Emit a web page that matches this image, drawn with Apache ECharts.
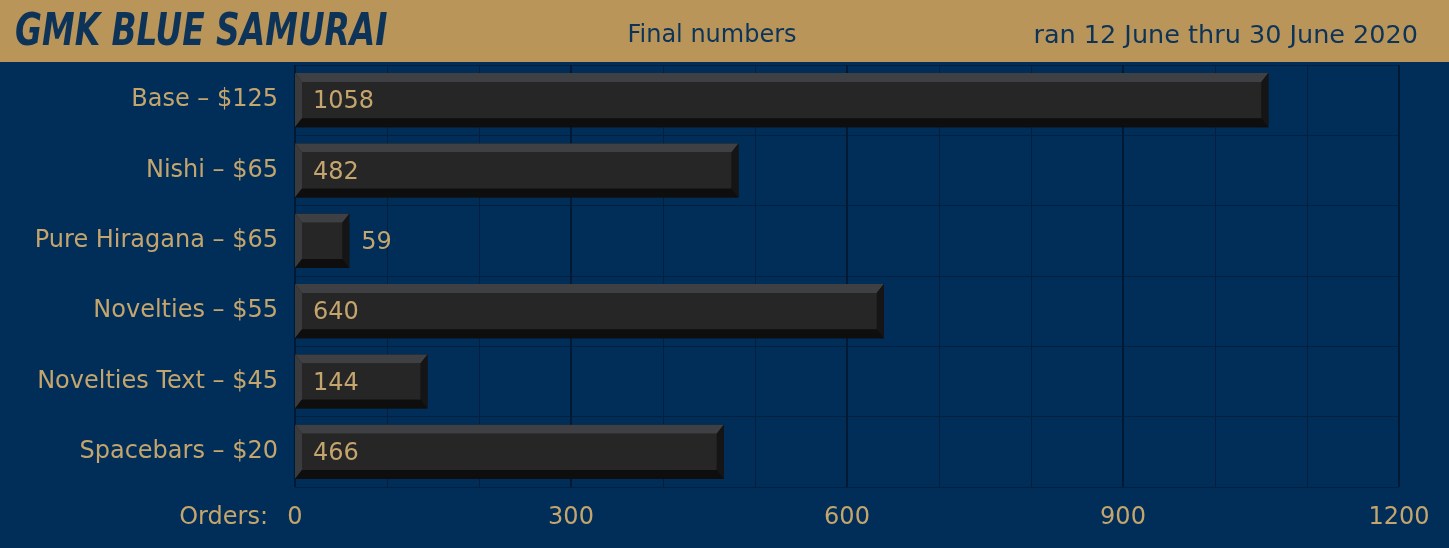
<!DOCTYPE html>
<html>
<head>
<meta charset="utf-8">
<script src="https://cdn.jsdelivr.net/npm/echarts@6/dist/echarts.min.js"></script>
<style>
html,body{margin:0;padding:0;background:#002e58;}
#chart{width:1449px;height:548px;}
</style>
</head>
<body>
<div id="chart"></div>
<script>
const categories = ['Base – $125', 'Nishi – $65', 'Pure Hiragana – $65', 'Novelties – $55', 'Novelties Text – $45', 'Spacebars – $20'];
const orders = [1058, 482, 59, 640, 144, 466];
const xTicks = [0, 300, 600, 900, 1200];
const titleText = 'GMK BLUE SAMURAI';
const subtitleText = 'Final numbers';
const dateText = 'ran 12 June thru 30 June 2020';
const axisNameText = 'Orders:';

const GOLD = '#c4a56d';
const FONT = '"DejaVu Sans", "Noto Sans", sans-serif';

const chart = echarts.init(document.getElementById('chart'), null, {renderer: 'canvas'});

function renderItem(params, api) {
  const v = api.value(0);
  const c = api.value(1);
  const s = api.coord([0, c]);
  const e = api.coord([v, c]);
  const h = api.size([0, 1])[1] * 0.77;
  const x0 = s[0], x1 = e[0];
  const y0 = s[1] - h / 2, y1 = s[1] + h / 2;
  const bl = 7, bt = 9, br = 7, bb = 9;
  const inside = v >= 100;
  return {
    type: 'group',
    children: [
      {type: 'rect', shape: {x: x0, y: y0, width: x1 - x0, height: y1 - y0}, style: {fill: '#121212'}},
      {type: 'polygon', shape: {points: [[x0, y0], [x1, y0], [x1 - br, y0 + bt], [x0 + bl, y0 + bt]]}, style: {fill: '#3f4043'}},
      {type: 'polygon', shape: {points: [[x0, y0], [x0 + bl, y0 + bt], [x0 + bl, y1 - bb], [x0, y1]]}, style: {fill: '#3a3b3d'}},
      {type: 'polygon', shape: {points: [[x0, y1], [x0 + bl, y1 - bb], [x1 - br, y1 - bb], [x1, y1]]}, style: {fill: '#0e0e0e'}},
      {type: 'polygon', shape: {points: [[x1, y0], [x1 - br, y0 + bt], [x1 - br, y1 - bb], [x1, y1]]}, style: {fill: '#151515'}},
      {type: 'rect', shape: {x: x0 + bl, y: y0 + bt, width: Math.max(0, x1 - x0 - bl - br), height: y1 - y0 - bt - bb}, style: {fill: '#262627'}},
      {type: 'text', style: {
        text: String(v),
        x: inside ? x0 + 18 : x1 + 12,
        y: s[1] + 2,
        fill: GOLD,
        font: '24px ' + FONT,
        textAlign: 'left',
        textVerticalAlign: 'middle',
        verticalAlign: 'middle'
      }}
    ]
  };
}

const option = {
  backgroundColor: '#002e58',
  animation: false,
  grid: {left: 295, right: 50, top: 65, bottom: 61, containLabel: false},
  xAxis: {
    type: 'value',
    min: 0,
    max: 1200,
    interval: 300,
    axisLine: {show: false},
    axisTick: {show: false},
    axisLabel: {
      color: GOLD, fontSize: 24, fontFamily: FONT, margin: 19,
      formatter: function (val) { return xTicks.indexOf(val) >= 0 ? String(val) : ''; }
    },
    splitLine: {show: true, lineStyle: {color: '#001a35', width: 2}},
    minorTick: {show: false, splitNumber: 3},
    minorSplitLine: {show: true, lineStyle: {color: '#03213e', width: 1}}
  },
  yAxis: {
    type: 'category',
    data: categories,
    inverse: true,
    axisLine: {show: false},
    axisTick: {show: false},
    axisLabel: {color: GOLD, fontSize: 24, fontFamily: FONT, margin: 17, padding: [8, 0, 0, 0]},
    splitLine: {show: true, lineStyle: {color: '#03213e', width: 1}}
  },
  graphic: [
    {type: 'rect', left: 0, top: 0, z: 10, shape: {width: 1449, height: 62}, style: {fill: '#b9955a'}},
    {type: 'text', x: 15, y: 34, scaleX: 0.83, z: 11, style: {text: titleText, fill: '#0d3458', font: 'italic bold 44px "DejaVu Sans Condensed", "DejaVu Sans", sans-serif', textVerticalAlign: 'middle', verticalAlign: 'middle'}},
    {type: 'text', x: 712, y: 36, z: 11, style: {text: subtitleText, fill: '#0d3458', font: '24px ' + FONT, textAlign: 'center', textVerticalAlign: 'middle', verticalAlign: 'middle'}},
    {type: 'text', x: 1418, y: 36, z: 11, style: {text: dateText, fill: '#0d3458', font: '25.5px ' + FONT, textAlign: 'right', textVerticalAlign: 'middle', verticalAlign: 'middle'}},
    {type: 'text', x: 268, y: 518, z: 11, style: {text: axisNameText, fill: GOLD, font: '24px ' + FONT, textAlign: 'right', textVerticalAlign: 'middle', verticalAlign: 'middle'}}
  ],
  series: [{
    type: 'custom',
    renderItem: renderItem,
    encode: {x: 0, y: 1},
    data: orders.map(function (v, i) { return [v, i]; })
  }]
};
chart.setOption(option);
</script>
</body>
</html>
